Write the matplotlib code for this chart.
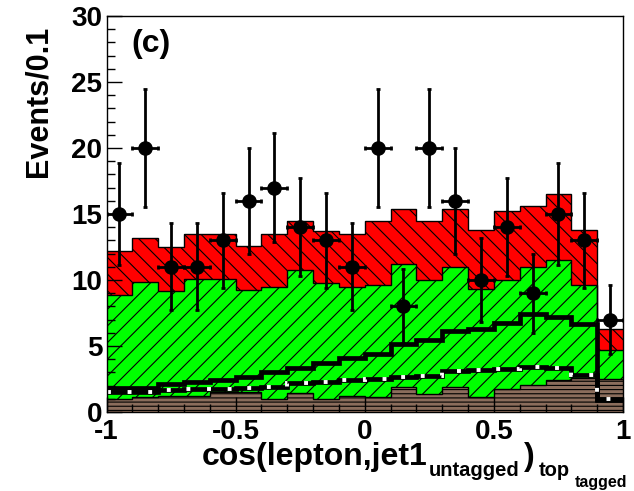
import numpy as np
import matplotlib
matplotlib.use("Agg")
import matplotlib.pyplot as plt
from matplotlib.ticker import MultipleLocator

plt.rcParams["font.family"] = ["Liberation Sans", "DejaVu Sans"]
plt.rcParams["font.weight"] = "bold"
plt.rcParams["hatch.linewidth"] = 0.8

# 20 bins of width 0.1 in cos(lepton, untagged jet) in the top rest frame
bin_edges = np.linspace(-1.0, 1.0, 21)

# stacked expectation, events per bin
other_bkg = [0.96, 1.11, 1.24, 1.20, 1.49, 1.49, 1.00, 1.41, 0.96, 1.24,
             1.16, 1.92, 1.36, 1.90, 1.16, 1.75, 2.05, 2.45, 2.60, 2.50]
wjets = [7.94, 8.76, 7.96, 8.90, 8.61, 7.75, 8.45, 9.35, 8.84, 8.26,
         8.44, 9.28, 8.64, 9.10, 8.14, 8.25, 8.95, 9.05, 7.00, 2.20]
ttbar = [3.30, 3.33, 3.30, 3.40, 3.40, 3.36, 4.05, 3.74, 3.90, 4.00,
         4.90, 4.20, 4.50, 4.40, 4.50, 5.20, 4.60, 5.00, 4.20, 1.60]

# single-top templates drawn as lines
signal_solid = [1.79, 1.80, 2.12, 2.30, 2.42, 2.68, 3.05, 3.36, 3.74, 4.12,
                4.40, 5.13, 5.43, 6.10, 6.30, 6.75, 7.40, 7.20, 6.70, 0.88]
signal_dashed = [1.54, 1.54, 1.67, 1.72, 1.74, 1.84, 1.92, 2.17, 2.30, 2.42,
                 2.47, 2.68, 2.75, 3.13, 3.18, 3.23, 3.38, 3.33, 2.80, 1.00]

# observed events
data_counts = [15, 20, 11, 11, 13, 16, 17, 14, 13, 11,
               20, 8, 20, 16, 10, 14, 9, 15, 13, 7]
data_err = [3.9, 4.5, 3.3, 3.3, 3.6, 4.0, 4.1, 3.7, 3.6, 3.3,
            4.5, 2.8, 4.5, 4.0, 3.2, 3.7, 3.0, 3.9, 3.6, 2.6]

xtick_values = [-1, -0.5, 0, 0.5, 1]
xtick_labels = ["-1", "-0.5", "0", "0.5", "1"]
ytick_values = [0, 5, 10, 15, 20, 25, 30]
ytick_labels = ["0", "5", "10", "15", "20", "25", "30"]

W, H = 634, 491
fig = plt.figure(figsize=(W / 100, H / 100), dpi=100)
ax = fig.add_axes([106.5 / W, 79 / H, 516.5 / W, 396 / H])

brown_top = np.array(other_bkg)
green_top = brown_top + np.array(wjets)
red_top = green_top + np.array(ttbar)

ax.stairs(brown_top, bin_edges, baseline=0, fill=True, facecolor="#8b6d5c",
          edgecolor="black", hatch="----", linewidth=0, zorder=1)
ax.stairs(green_top, bin_edges, baseline=brown_top, fill=True, facecolor="#00ff00",
          edgecolor="black", hatch="//", linewidth=0, zorder=1)
ax.stairs(red_top, bin_edges, baseline=green_top, fill=True, facecolor="#ff0000",
          edgecolor="black", hatch="\\\\", linewidth=0, zorder=1)
for top in (brown_top, green_top, red_top):
    ax.stairs(top, bin_edges, baseline=None, color="black", linewidth=1.0, zorder=2)

ax.stairs(signal_solid, bin_edges, baseline=None, color="black", linewidth=3.4, zorder=3)
ax.stairs(signal_dashed, bin_edges, baseline=None, color="black", linewidth=3.4, zorder=3)
ax.stairs(signal_dashed, bin_edges, baseline=None, color="white", linewidth=2.8,
          linestyle=(0, (1.0, 4.3)), zorder=3)

centers = 0.5 * (bin_edges[:-1] + bin_edges[1:])
ax.errorbar(centers, data_counts, xerr=0.05, yerr=data_err, fmt="o", color="black",
            ms=9.5, lw=2.0, capsize=1.5, capthick=2.0, zorder=5)

ax.set_xlim(-1, 1)
ax.set_ylim(0, 30)
ax.set_xticks(xtick_values)
ax.set_xticklabels(xtick_labels)
ax.set_yticks(ytick_values)
ax.set_yticklabels(ytick_labels)
ax.xaxis.set_minor_locator(MultipleLocator(0.1))
ax.yaxis.set_minor_locator(MultipleLocator(1))
ax.tick_params(which="both", direction="in", top=False, right=False, width=1.0,
               color="black", labelsize=20)
ax.tick_params(which="major", length=11)
ax.tick_params(which="minor", length=5.5)
ax.tick_params(axis="x", pad=5)
ax.tick_params(axis="y", pad=3)
for s in ax.spines.values():
    s.set_linewidth(1.0)
    s.set_color("black")
    s.set_zorder(6)

fig.text(39 / W, 1 - 101 / H, "Events/0.1", rotation=90, ha="center", va="center",
         fontsize=22, fontweight="bold")
fig.text(131 / W, 1 - 52 / H, "(c)", fontsize=23, fontweight="bold", va="baseline")

# axis title with nested subscripts
fig.text(202 / W, 1 - 465 / H, "cos(lepton,jet1", fontsize=23, fontweight="bold",
         va="baseline")
fig.text(429 / W, 1 - 476 / H, "untagged", fontsize=14.5, fontweight="bold",
         va="baseline")
fig.text(524 / W, 1 - 465 / H, ")", fontsize=23, fontweight="bold", va="baseline")
fig.text(539 / W, 1 - 476 / H, "top", fontsize=14.5, fontweight="bold", va="baseline")
fig.text(575 / W, 1 - 487 / H, "tagged", fontsize=11.5, fontweight="bold",
         va="baseline")

fig.savefig("out.png", dpi=100)
